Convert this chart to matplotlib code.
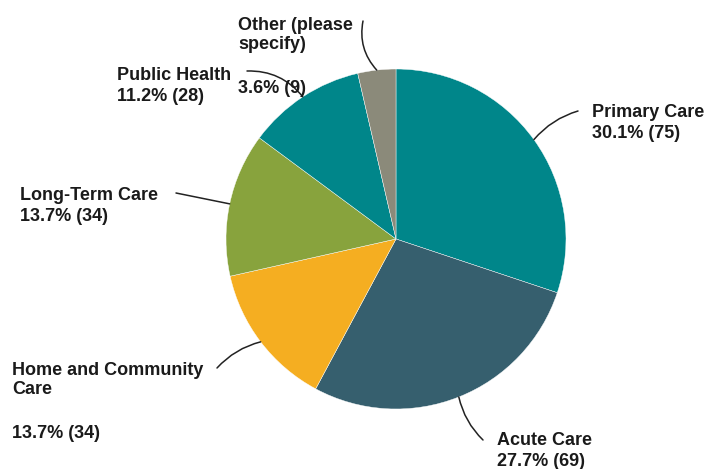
import numpy as np
import matplotlib
matplotlib.use("Agg")
import matplotlib.pyplot as plt

plt.rcParams['font.family'] = ['Liberation Sans', 'DejaVu Sans']

categories = ["Primary Care", "Acute Care", "Home and Community\nCare", "Long-Term Care",
              "Public Health", "Other (please\nspecify)"]
counts = [75, 69, 34, 34, 28, 9]
colors = ["#00868a", "#365f6e", "#f5ae21", "#88a33d", "#00868a", "#8b8a7a"]

W, H = 708, 469
fig = plt.figure(figsize=(W / 100, H / 100), dpi=100)
ax = fig.add_axes([0, 0, 1, 1])

cx, cy, r = 396, H - 239, 170
wedges, _ = ax.pie(counts, colors=colors, startangle=90, counterclock=False,
                   center=(cx, cy), radius=r, frame=True,
                   wedgeprops=dict(edgecolor='white', linewidth=0.3))
ax.set_xlim(0, W)
ax.set_ylim(0, H)
ax.set_aspect('equal')
ax.axis('off')

total = sum(counts)
pcts = [f"{100 * n / total:.1f}% ({n})" for n in counts]

# label anchor (left, top) and leader line end, in pixels from the top
text_pos = [(592, 104), (497, 432), (12, 362), (20, 187), (117, 67), (238, 17)]
line_end = [(578, 111), (483, 440), (217, 368), (176, 193), (247, 71), (363, 21)]
rads = [0.15, -0.15, -0.15, 0.0, -0.25, 0.25]
step = 21.0

for w, name, pct, (tx, ty), (lx, ly), rad in zip(wedges, categories, pcts,
                                                 text_pos, line_end, rads):
    mid = np.deg2rad((w.theta1 + w.theta2) / 2)
    ex, ey = cx + r * np.cos(mid), cy + r * np.sin(mid)
    ax.annotate('', xy=(ex, ey), xytext=(lx, H - ly),
                arrowprops=dict(arrowstyle='-', color='#222222', lw=1.1,
                                connectionstyle=f'arc3,rad={rad}',
                                shrinkA=0, shrinkB=0))
    nlines = name.count("\n") + 1
    ax.text(tx, H - ty, name, ha='left', va='top', fontsize=13,
            fontweight='bold', color='#1a1a1a', linespacing=1.15)
    # two-line names leave an empty row before the percentage
    gap = nlines if nlines == 1 else nlines + 1
    ax.text(tx, H - ty - gap * step, pct, ha='left', va='top', fontsize=13,
            fontweight='bold', color='#1a1a1a')

fig.savefig("out.png", dpi=100)
